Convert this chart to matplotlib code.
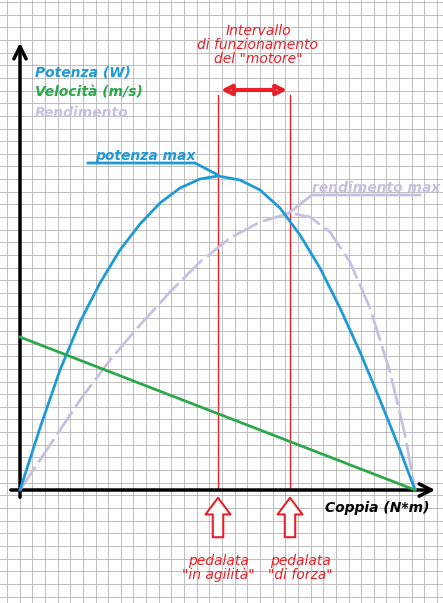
import matplotlib.pyplot as plt
import numpy as np

# values (pixel-like units: x = torque, y = height above axis)
power_x = [20, 40, 60, 80, 100, 120, 140, 160, 180, 200, 218, 240, 260, 280, 300, 320, 340, 360, 380, 400, 415]
power_y = [0, 62, 120, 168, 207, 240, 266, 287, 302, 311, 314, 310, 300, 282, 255, 222, 182, 138, 90, 40, 0]

eff_x = [20, 50, 80, 110, 140, 170, 200, 230, 260, 290, 310, 330, 350, 370, 390, 405, 415]
eff_y = [0, 45, 90, 130, 165, 198, 228, 252, 268, 277, 273, 258, 228, 182, 118, 55, 0]

vel_x = [20, 415]
vel_y = [153, 0]

ORIGIN_Y = 490
BLUE = '#1e9ad6'
GREEN = '#2ca84a'
LILAC = '#c8c0e0'
RED = '#e8202a'

fig = plt.figure(figsize=(4.43, 6.03), dpi=100)
ax = fig.add_axes([0, 0, 1, 1])
ax.set_xlim(0, 443)
ax.set_ylim(603, 0)
ax.axis('off')

# graph paper
for g in np.arange(7, 443, 12.65):
    ax.axvline(g, color='#b4b4b4', lw=0.6, zorder=0)
for g in np.arange(2, 603, 12.65):
    ax.axhline(g, color='#b4b4b4', lw=0.6, zorder=0)

# axes arrows
ax.annotate('', xy=(20, 40), xytext=(20, 500),
            arrowprops=dict(arrowstyle='->', lw=2.5, color='black', mutation_scale=22))
ax.annotate('', xy=(438, ORIGIN_Y), xytext=(8, ORIGIN_Y),
            arrowprops=dict(arrowstyle='->', lw=2.5, color='black', mutation_scale=22))

py = [ORIGIN_Y - v for v in power_y]
ey = [ORIGIN_Y - v for v in eff_y]
vy = [ORIGIN_Y - v for v in vel_y]
ax.plot(eff_x, ey, color=LILAC, lw=2, ls=(0, (10, 2)), zorder=3)
ax.plot(power_x, py, color=BLUE, lw=2, zorder=4)
ax.plot(vel_x, vy, color=GREEN, lw=2, zorder=4)

# operating interval
ax.plot([218, 218], [95, 490], color=RED, lw=1)
ax.plot([290, 290], [95, 490], color=RED, lw=1)
ax.annotate('', xy=(218, 90), xytext=(290, 90),
            arrowprops=dict(arrowstyle='<|-|>', lw=3, color=RED, fc='white', mutation_scale=15))
ax.text(258, 45, 'Intervallo\ndi funzionamento\ndel "motore"', color=RED, fontsize=10,
        style='italic', ha='center', va='center', linespacing=1.0)

for x in (218, 290):
    ax.annotate('', xy=(x, 495), xytext=(x, 540),
                arrowprops=dict(arrowstyle='simple,head_width=1.2,head_length=0.8,tail_width=0.5',
                                fc='white', ec=RED, lw=1.5, mutation_scale=15))
ax.text(218, 568, 'pedalata\n"in agilità"', color=RED, fontsize=10, style='italic',
        ha='center', va='center', linespacing=1.0)
ax.text(300, 568, 'pedalata\n"di forza"', color=RED, fontsize=10, style='italic',
        ha='center', va='center', linespacing=1.0)

# legend text
ax.text(35, 77, 'Potenza (W)', color=BLUE, fontsize=10, style='italic', weight='bold')
ax.text(35, 97, 'Velocità (m/s)', color=GREEN, fontsize=10, style='italic', weight='bold')
ax.text(35, 117, 'Rendimento', color=LILAC, fontsize=10, style='italic', weight='bold')

# max labels
ax.plot([88, 195, 218], [163, 163, 175], color=BLUE, lw=2)
ax.text(95, 160, 'potenza max', color=BLUE, fontsize=10, style='italic', weight='bold')
ax.plot([290, 312, 420], [212, 195, 195], color=LILAC, lw=2)
ax.text(312, 192, 'rendimento max', color=LILAC, fontsize=10, style='italic', weight='bold')

ax.text(325, 512, 'Coppia (N*m)', color='black', fontsize=10, style='italic', weight='bold')

fig.savefig('out.png', dpi=100)
